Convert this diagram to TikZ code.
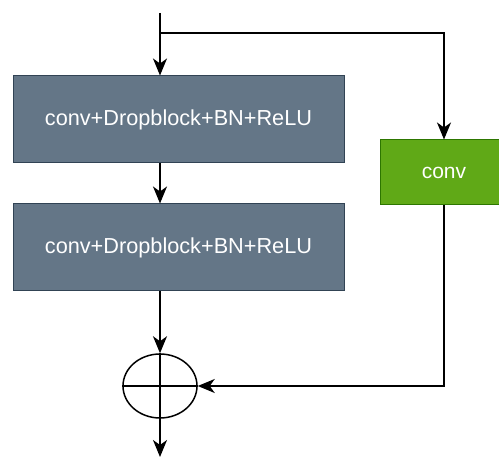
\documentclass[tikz,border=0pt]{standalone}
\usepackage{fontspec}
\setmainfont{Liberation Sans}
\usetikzlibrary{shapes.geometric,arrows.meta}
\definecolor{slatefill}{HTML}{647687}
\definecolor{slateline}{HTML}{314354}
\definecolor{greenfill}{HTML}{60A917}
\definecolor{greenline}{HTML}{2D7600}
\tikzset{
  blk/.style={draw=slateline, line width=1pt, fill=slatefill, text=white, minimum width=331pt, minimum height=87pt, inner sep=0pt, font=\fontsize{21.7}{24}\selectfont},
  convbox/.style={draw=greenline, line width=1pt, fill=greenfill, text=white, minimum width=128pt, minimum height=65pt, inner sep=0pt, font=\fontsize{21}{24}\selectfont},
  sumnode/.style={ellipse, draw, line width=1.5pt, minimum width=74pt, minimum height=64pt, inner sep=0pt},
  arr/.style={line width=1.5pt, -{Stealth[length=17pt, width=14pt, inset=5pt]}},
  ln/.style={line width=1.5pt}
}
\begin{document}
\begin{tikzpicture}[x=1pt,y=-1pt]
\useasboundingbox (0,0) rectangle (499,457);
\node[blk] (b1) at (178.5,119.5) {conv+Dropblock+BN+ReLU};
\node[blk] (b2) at (178.5,247.5) {conv+Dropblock+BN+ReLU};
\node[convbox] (cv) at (444,172.5) {conv};
\node[sumnode] (sum) at (160,386) {};
\draw[ln] (sum.west) -- (sum.east);
\draw[ln] (sum.north) -- (sum.south);
\coordinate (in) at (160,13);
\coordinate (br) at (160,33);
\coordinate (out) at (160,457);
\draw[arr] (in) -- (in |- b1.north);
\draw[arr] (br) -| (cv.north);
\draw[arr] (b1.south -| in) -- (b2.north -| in);
\draw[arr] (b2.south -| sum) -- (sum.north);
\draw[arr] (cv.south) |- (sum.east);
\draw[arr] (sum.south) -- (out);
\end{tikzpicture}
\end{document}
